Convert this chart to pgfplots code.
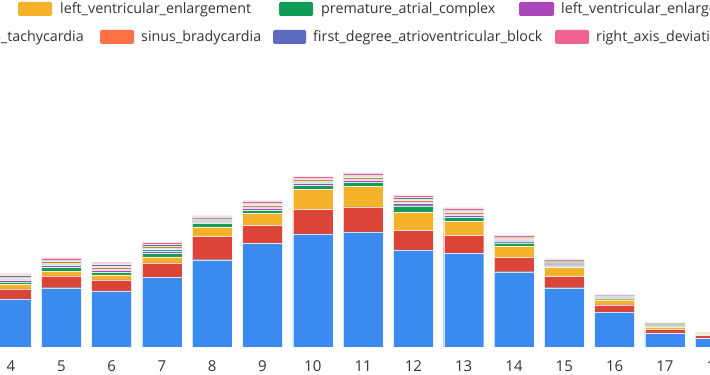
\documentclass[border=0pt]{standalone}
\usepackage{pgfplots}
\pgfplotsset{compat=1.18}
\usepackage{pgfplotstable}
\usepackage{fontspec}
\setmainfont{Open Sans}
\definecolor{cblue}{HTML}{3A8AF0}
\definecolor{cred}{HTML}{DB4437}
\definecolor{cyellow}{HTML}{F4B22A}
\definecolor{cgreen}{HTML}{0F9D58}
\definecolor{cpurple}{HTML}{AB47BC}
\definecolor{ccyan}{HTML}{00ACC1}
\definecolor{corange}{HTML}{FF7043}
\definecolor{colive}{HTML}{9E9D24}
\definecolor{cindigo}{HTML}{5C6BC0}
\definecolor{cpink}{HTML}{F06292}
\definecolor{ctext}{HTML}{333333}
\pgfplotstableread{
x blue red yellow green purple cyan orange olive indigo pink
4 48 10 4.5 2.5 1.6 1.2 1.2 1.2 1.2 1.6
5 59.3 11.7 4.8 3.7 1.9 1.4 1.4 1.4 1.4 2.0
6 56 11.3 4.7 2.5 2.0 1.5 1.5 1.5 1.4 1.9
7 69.7 14.3 6 3.5 2.2 1.7 1.7 1.7 1.7 2.2
8 87.3 23.2 9.5 3.5 1.5 1.1 1.1 1.1 1.2 1.5
9 103.7 17.8 12 3.2 1.9 1.4 1.4 1.4 1.4 1.8
10 113 24.5 20 4.2 1.8 1.4 1.3 1.4 1.3 1.8
11 115 25 20.5 4.2 1.9 1.4 1.4 1.4 1.4 1.8
12 97 19.5 18 6.8 2.1 1.6 1.5 1.6 1.5 2.1
13 93.7 18 13.8 4.2 1.9 1.4 1.4 1.4 1.4 1.8
14 75.3 14.4 11.5 3.1 1.5 1.1 1.1 1.1 1.1 1.5
15 59.3 11.4 8.8 1.5 1.3 1.0 1.0 1.0 1.0 1.4
16 35 7.3 5 1.2 0.7 0.5 0.5 0.5 0.6 0.7
17 13.7 3.8 2.8 0.8 0.7 0.5 0.5 0.5 0.5 0.6
18 8.7 2.8 1.5 0.5 0.3 0.2 0.2 0.3 0.2 0.3
}\datatable
\begin{document}
\begin{tikzpicture}
\begin{scope}
\clip (39.3pt,-28pt) rectangle (749.3pt,347pt);
\begin{axis}[
  at={(0pt,0pt)}, anchor=south west,
  x=50.3pt, y=1pt,
  xmin=3, xmax=19, ymin=0, ymax=350,
  enlargelimits=false,
  ybar stacked, bar width=40pt,
  axis line style={draw=none},
  xtick={4,...,18}, ytick=\empty,
  major tick length=0pt,
  /pgf/number format/assume math mode=true,
  xticklabel style={anchor=base, yshift=-24pt, text=ctext, font=\fontsize{15}{18}\selectfont},
  every axis plot/.append style={draw=white, draw opacity=0.75, line width=0.35pt},
]
\addplot[fill=cblue] table[x=x,y=blue]{\datatable};
\addplot[fill=cred] table[x=x,y=red]{\datatable};
\addplot[fill=cyellow] table[x=x,y=yellow]{\datatable};
\addplot[fill=cgreen] table[x=x,y=green]{\datatable};
\addplot[fill=cpurple] table[x=x,y=purple]{\datatable};
\addplot[fill=ccyan] table[x=x,y=cyan]{\datatable};
\addplot[fill=corange] table[x=x,y=orange]{\datatable};
\addplot[fill=colive] table[x=x,y=olive]{\datatable};
\addplot[fill=cindigo] table[x=x,y=indigo]{\datatable};
\addplot[fill=cpink] table[x=x,y=pink]{\datatable};
\end{axis}
\begin{scope}[every node/.style={inner sep=0pt, text=ctext, font=\fontsize{14.3}{17}\selectfont}]
% row 1
\fill[cyellow, rounded corners=1.5pt] (57.3pt,331pt) rectangle (91.3pt,345pt);
\node[anchor=base west] at (99.3pt,333pt) {left\_ventricular\_enlargement};
\fill[cgreen, rounded corners=1.5pt] (318.3pt,331pt) rectangle (352.3pt,345pt);
\node[anchor=base west] at (360.3pt,333pt) {premature\_atrial\_complex};
\fill[cpurple, rounded corners=1.5pt] (558.3pt,331pt) rectangle (593.3pt,345pt);
\node[anchor=base west] at (600.3pt,333pt) {left\_ventricular\_enlargement};
% row 2
\node[anchor=base east] (st) at (123.3pt,305pt) {sinus\_tachycardia};
\fill[cred, rounded corners=1.5pt] ([xshift=-41pt]st.west |- 0,303pt) rectangle ([xshift=-7pt]st.west |- 0,317pt);
\fill[corange, rounded corners=1.5pt] (139.3pt,303pt) rectangle (173.3pt,317pt);
\node[anchor=base west] at (180.3pt,305pt) {sinus\_bradycardia};
\fill[cindigo, rounded corners=1.5pt] (312.3pt,303pt) rectangle (345.3pt,317pt);
\node[anchor=base west] at (352.3pt,305pt) {first\_degree\_atrioventricular\_block};
\fill[cpink, rounded corners=1.5pt] (594.3pt,303pt) rectangle (628.3pt,317pt);
\node[anchor=base west] at (635.3pt,305pt) {right\_axis\_deviation};
\end{scope}
\end{scope}
\pgfresetboundingbox
\useasboundingbox (39.3pt,-28pt) rectangle (749.3pt,347pt);
\end{tikzpicture}
\end{document}
